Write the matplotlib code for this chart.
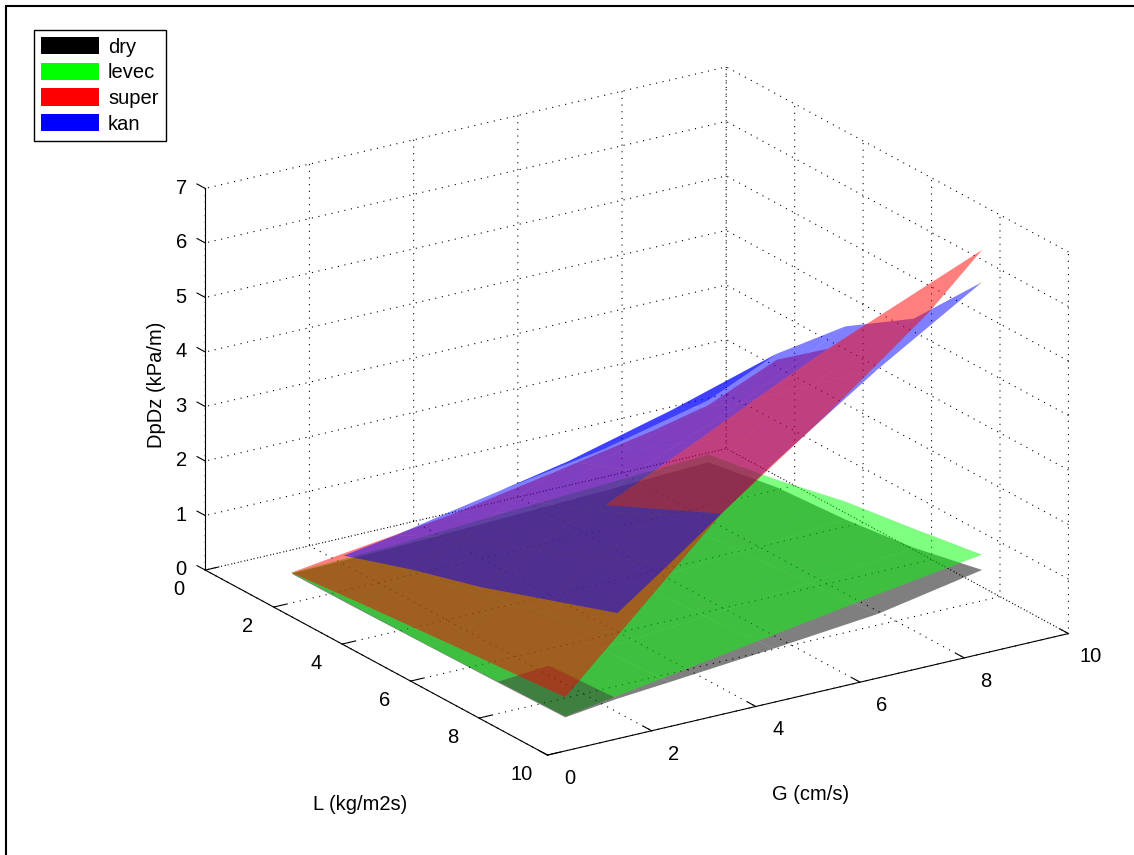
import matplotlib
matplotlib.use('Agg')
import matplotlib.pyplot as plt
import numpy as np
from matplotlib.patches import Patch, Rectangle
from mpl_toolkits.mplot3d import proj3d
from mpl_toolkits.mplot3d.art3d import Poly3DCollection

plt.rcParams['font.family'] = ['Liberation Sans', 'DejaVu Sans']

# L (rows) and G (columns) of each measured surface
L_vals = [1, 3, 5, 7, 9]

dry_G = [1, 2, 3, 5, 7, 9]
dry_z = [[.05, .07, .09, .16, .23, .31],
         [.06, .10, .14, .26, .38, .53],
         [.08, .13, .20, .33, .47, .62],
         [.10, .18, .26, .41, .58, .78],
         [.13, .25, .33, .50, .69, 1.05]]

levec_G = [1, 3, 5, 7, 9]
levec_z = [[.07, .13, .25, .35, .45],
           [.08, .20, .35, .50, .67],
           [.09, .27, .48, .70, .95],
           [.12, .36, .62, .87, 1.13],
           [.15, .45, .75, 1.05, 1.33]]

kan_G = [2, 3, 4, 5, 7, 9]
kan_z = [[.16, .31, .50, .68, 1.00, 1.45],
         [.58, .95, 1.45, 1.90, 2.40, 2.98],
         [.94, 1.40, 1.90, 2.40, 3.20, 4.16],
         [1.38, 1.95, 2.50, 3.10, 4.20, 4.98],
         [1.82, 2.50, 3.20, 3.90, 5.18, 6.33]]

super_G = [1, 2, 4, 6, 8, 9]
super_L = [[1, 1, 1, 1, 1, 1],
           [3, 3, 3, 3, 3, 3],
           [5.6, 5.6, 5.6, 5.2, 4.8, 4.5],
           [9, 9, 9, 9, 9, 9]]
super_z = [[.07, .20, .44, .78, 1.14, 1.36],
           [.19, .50, 1.20, 1.85, 2.40, 2.87],
           [.33, .90, 2.20, 2.78, 3.38, 3.58],
           [.50, 1.40, 3.20, 4.55, 6.02, 6.92]]

names = ['dry', 'levec', 'super', 'kan']
colors = ['black', '#00ff00', 'red', 'blue']
lg_ticks = [0, 2, 4, 6, 8, 10]
z_ticks = [0, 1, 2, 3, 4, 5, 6, 7]


def cells(L, G, Z, rows=None, cols=None):
    L, G, Z = np.array(L, float), np.array(G, float), np.array(Z, float)
    rows = range(Z.shape[0] - 1) if rows is None else rows
    cols = range(Z.shape[1] - 1) if cols is None else cols
    out = []
    for i in rows:
        for j in cols:
            out.append([(L[i, j], G[i, j], Z[i, j]), (L[i + 1, j], G[i + 1, j], Z[i + 1, j]),
                        (L[i + 1, j + 1], G[i + 1, j + 1], Z[i + 1, j + 1]), (L[i, j + 1], G[i, j + 1], Z[i, j + 1])])
    return out


def add(ax, polys, color, zorder):
    coll = Poly3DCollection(polys, facecolor=color, edgecolor='none', linewidth=0, alpha=0.5, antialiased=True)
    coll.set_zorder(zorder)
    ax.add_collection3d(coll, autolim=False)


def tick_text(ax, x, y, z, s):
    px, py, _ = proj3d.proj_transform(x, y, z, ax.get_proj())
    ax.text2D(px, py, s, transform=ax.transData, fontsize=14.5, ha='center', va='center')


fig = plt.figure(figsize=(11.34, 8.55), dpi=100)
ax = fig.add_axes([0.0514, 0.0058, 1.0, 1.0], projection='3d', computed_zorder=False)
ax.set_proj_type('ortho')
ax.view_init(elev=20.8, azim=-33.3)
ax.set_box_aspect((1, 1, 0.655), zoom=1.103)
ax.set_xlim(0, 10, view_margin=0)
ax.set_ylim(0, 10, view_margin=0)
ax.set_zlim(0, 7, view_margin=0)
ax.set_xticks(lg_ticks)
ax.set_yticks(lg_ticks)
ax.set_zticks(z_ticks)
ax.grid(True)

for axis in (ax.xaxis, ax.yaxis, ax.zaxis):
    axis.set_tick_params(label1On=False)
    axis.set_pane_color((1, 1, 1, 0))
    axis.pane.set_edgecolor('none')
    axis.line.set_color('black')
    axis.line.set_linewidth(0.8)
    axis._axinfo['tick']['inward_factor'] = 0
    axis._axinfo['tick']['outward_factor'] = 0.3
    axis._axinfo['tick']['linewidth'] = {True: 0.8, False: 0.5}
    axis._axinfo['grid'].update({'color': 'black', 'linewidth': 0.8, 'linestyle': (0, (1, 5))})
ax.zaxis._axinfo['juggled'] = (1, 2, 0)

# tick labels sit a fixed step off each axis, as the original has them
for t in lg_ticks:
    tick_text(ax, t, -0.5, -0.25, str(t))
    tick_text(ax, 10.64, t, -0.21, str(t))
for t in z_ticks:
    tick_text(ax, -0.7, 0, t - 0.23, str(t))

dry_L, dry_GG = np.meshgrid(L_vals, dry_G, indexing='ij')
lev_L, lev_GG = np.meshgrid(L_vals, levec_G, indexing='ij')
kan_L, kan_GG = np.meshgrid(L_vals, kan_G, indexing='ij')
sup_GG = np.tile(super_G, (4, 1))

# the draw order follows what the picture shows, not a depth sort
corner = [(3, 0)]
dry_polys = [p for i in range(4) for j in range(5) if (i, j) not in corner
             for p in cells(dry_L, dry_GG, dry_z, [i], [j])]
add(ax, dry_polys, colors[0], 3)
add(ax, cells(lev_L, lev_GG, levec_z), colors[1], 4)
add(ax, cells(dry_L, dry_GG, dry_z, [3], [0]), colors[0], 5)
sup_under = [p for i in range(3) for j in range(5) if not (i == 2 and j >= 2)
             for p in cells(super_L, sup_GG, super_z, [i], [j])]
add(ax, sup_under, colors[2], 6)
add(ax, cells(kan_L, kan_GG, kan_z), colors[3], 7)
add(ax, cells(super_L, sup_GG, super_z, [2], [2, 3, 4]), colors[2], 8)

fig.text(360 / 1134, 1 - 804 / 855, 'L (kg/m2s)', fontsize=14.5, ha='center', va='center')
fig.text(811 / 1134, 1 - 794 / 855, 'G (cm/s)', fontsize=14.5, ha='center', va='center')
fig.text(157 / 1134, 1 - 385 / 855, 'DpDz (kPa/m)', fontsize=14.5, rotation=90, ha='center', va='center')

handles = [Patch(facecolor=c, edgecolor='none', label=n) for c, n in zip(colors, names)]
fig.legend(handles=handles, loc='upper left', bbox_to_anchor=(34 / 1134, 1 - 30 / 855), fontsize=14.5,
           handlelength=2.88, handleheight=0.95, labelspacing=0.3, handletextpad=0.45, borderpad=0.35,
           borderaxespad=0, fancybox=False, framealpha=1, edgecolor='black')

fig.add_artist(Rectangle((6 / 1134, -0.01), 1.1, 1 - 6 / 855 + 0.01, transform=fig.transFigure,
                         fill=False, edgecolor='black', linewidth=1.5))

fig.savefig('out.png', dpi=100)
